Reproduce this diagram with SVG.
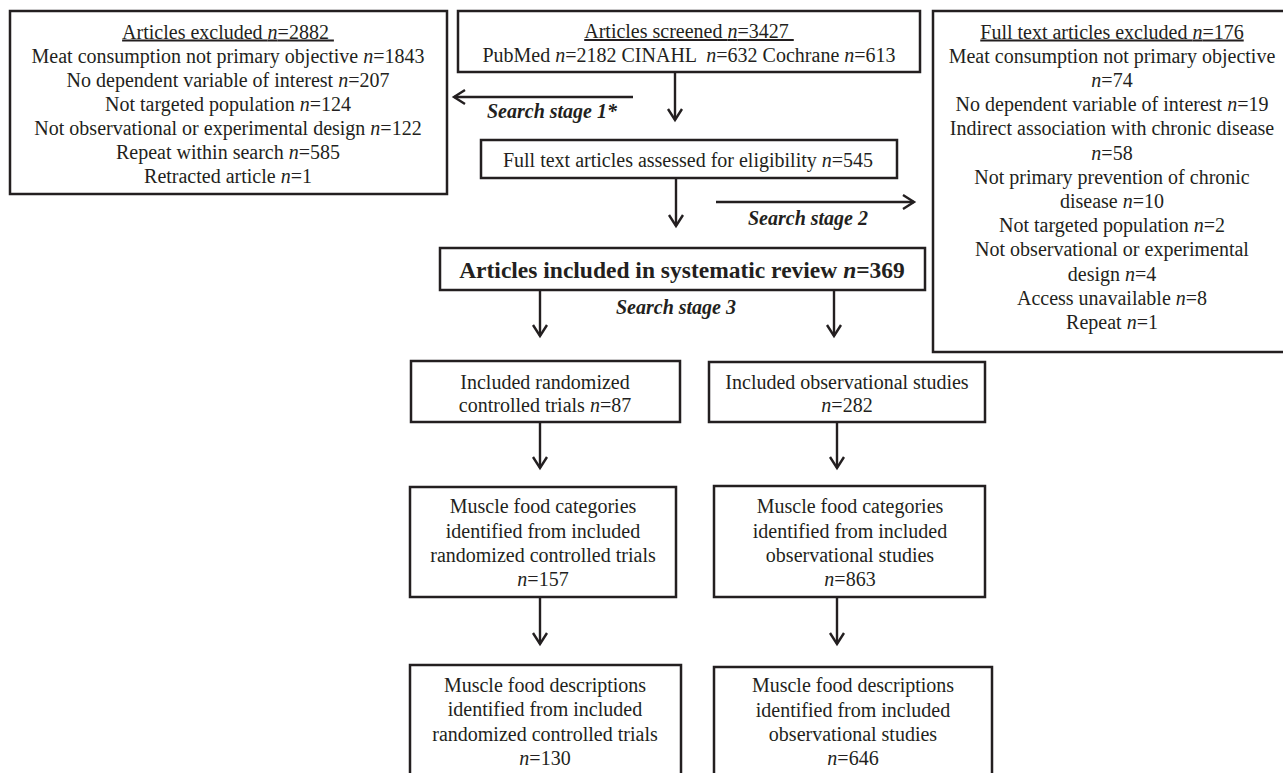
<svg xmlns="http://www.w3.org/2000/svg" width="1283" height="773" viewBox="0 0 1283 773">
<style>
.box{fill:#fff;stroke:#231f20;stroke-width:2.5}
.t{font-family:"Liberation Serif","Times New Roman",serif;font-size:20px;fill:#231f20;text-anchor:middle}
.b{font-weight:bold;font-size:23.5px}
.s{font-weight:bold;font-style:italic;font-size:20px}
.u{text-decoration:underline}
.i{font-style:italic}
.c{stroke:#231f20;stroke-width:2.4;fill:none}
</style>
<defs>
<marker id="ah" markerUnits="userSpaceOnUse" markerWidth="20" markerHeight="20" viewBox="-13 -10 15 20" refX="0" refY="0" orient="auto">
<path d="M -11 -7 L 0 0 L -11 7" fill="none" stroke="#231f20" stroke-width="2.4"/>
</marker>
</defs>
<rect width="1283" height="773" fill="#fff"/>
<g id="connectors">
<line class="c" x1="633" y1="97" x2="454" y2="97" marker-end="url(#ah)"/>
<line class="c" x1="675" y1="72" x2="675" y2="120" marker-end="url(#ah)"/>
<line class="c" x1="676" y1="178" x2="676" y2="226" marker-end="url(#ah)"/>
<line class="c" x1="716" y1="202" x2="914" y2="202" marker-end="url(#ah)"/>
<line class="c" x1="540" y1="290" x2="540" y2="336" marker-end="url(#ah)"/>
<line class="c" x1="834" y1="290" x2="834" y2="336" marker-end="url(#ah)"/>
<line class="c" x1="540" y1="422" x2="540" y2="468" marker-end="url(#ah)"/>
<line class="c" x1="837" y1="422" x2="837" y2="468" marker-end="url(#ah)"/>
<line class="c" x1="540" y1="597" x2="540" y2="644" marker-end="url(#ah)"/>
<line class="c" x1="837" y1="597" x2="837" y2="644" marker-end="url(#ah)"/>
<text class="t s" x="552" y="118">Search stage 1*</text>
<text class="t s" x="808" y="225">Search stage 2</text>
<text class="t s" x="676" y="314">Search stage 3</text>
</g>
<g id="excluded1">
<rect class="box" x="10" y="11" width="437" height="183"/>
<text class="t" x="228" y="38.5" xml:space="preserve"><tspan class="u">Articles excluded <tspan class="i">n</tspan>=2882 </tspan></text>
<text class="t" x="228" y="62.5">Meat consumption not primary objective <tspan class="i">n</tspan>=1843</text>
<text class="t" x="228" y="86.5">No dependent variable of interest <tspan class="i">n</tspan>=207</text>
<text class="t" x="228" y="110.5">Not targeted population <tspan class="i">n</tspan>=124</text>
<text class="t" x="228" y="134.5">Not observational or experimental design <tspan class="i">n</tspan>=122</text>
<text class="t" x="228" y="158.5">Repeat within search <tspan class="i">n</tspan>=585</text>
<text class="t" x="228" y="182.5">Retracted article <tspan class="i">n</tspan>=1</text>
</g>
<g id="screened">
<rect class="box" x="458" y="11" width="462" height="61"/>
<text class="t" x="689" y="38" xml:space="preserve"><tspan class="u">Articles screened <tspan class="i">n</tspan>=3427 </tspan></text>
<text class="t" x="689" y="62" xml:space="preserve">PubMed <tspan class="i">n</tspan>=2182 CINAHL  <tspan class="i">n</tspan>=632 Cochrane <tspan class="i">n</tspan>=613</text>
</g>
<g id="fulltext">
<rect class="box" x="481" y="140" width="416" height="38"/>
<text class="t" x="688" y="166.5">Full text articles assessed for eligibility <tspan class="i">n</tspan>=545</text>
</g>
<g id="excluded2">
<rect class="box" x="933" y="11" width="370" height="341"/>
<text class="t" x="1112" y="38.5"><tspan class="u">Full text articles excluded <tspan class="i">n</tspan>=176</tspan></text>
<text class="t" x="1112" y="62.7">Meat consumption not primary objective</text>
<text class="t" x="1112" y="86.9"><tspan class="i">n</tspan>=74</text>
<text class="t" x="1112" y="111.1">No dependent variable of interest <tspan class="i">n</tspan>=19</text>
<text class="t" x="1112" y="135.3">Indirect association with chronic disease</text>
<text class="t" x="1112" y="159.5"><tspan class="i">n</tspan>=58</text>
<text class="t" x="1112" y="183.7">Not primary prevention of chronic</text>
<text class="t" x="1112" y="207.9">disease <tspan class="i">n</tspan>=10</text>
<text class="t" x="1112" y="232.1">Not targeted population <tspan class="i">n</tspan>=2</text>
<text class="t" x="1112" y="256.3">Not observational or experimental</text>
<text class="t" x="1112" y="280.5">design <tspan class="i">n</tspan>=4</text>
<text class="t" x="1112" y="304.7">Access unavailable <tspan class="i">n</tspan>=8</text>
<text class="t" x="1112" y="328.9">Repeat <tspan class="i">n</tspan>=1</text>
</g>
<g id="included">
<rect class="box" x="440" y="248" width="485" height="42"/>
<text class="t b" x="682" y="277.5">Articles included in systematic review <tspan class="i">n</tspan>=369</text>
</g>
<g id="rct1">
<rect class="box" x="411" y="361" width="269" height="61"/>
<text class="t" x="545" y="388.5">Included randomized</text>
<text class="t" x="545" y="412">controlled trials <tspan class="i">n</tspan>=87</text>
</g>
<g id="obs1">
<rect class="box" x="709" y="362" width="276" height="60"/>
<text class="t" x="847" y="388.5">Included observational studies</text>
<text class="t" x="847" y="412"><tspan class="i">n</tspan>=282</text>
</g>
<g id="rct2">
<rect class="box" x="410" y="487" width="266" height="110"/>
<text class="t" x="543" y="513">Muscle food categories</text>
<text class="t" x="543" y="537.5">identified from included</text>
<text class="t" x="543" y="561.5">randomized controlled trials</text>
<text class="t" x="543" y="586"><tspan class="i">n</tspan>=157</text>
</g>
<g id="obs2">
<rect class="box" x="714" y="486" width="271" height="111"/>
<text class="t" x="850" y="513">Muscle food categories</text>
<text class="t" x="850" y="537.5">identified from included</text>
<text class="t" x="850" y="561.5">observational studies</text>
<text class="t" x="850" y="586"><tspan class="i">n</tspan>=863</text>
</g>
<g id="rct3">
<rect class="box" x="410" y="665" width="271" height="130"/>
<text class="t" x="545" y="692">Muscle food descriptions</text>
<text class="t" x="545" y="716">identified from included</text>
<text class="t" x="545" y="740.5">randomized controlled trials</text>
<text class="t" x="545" y="764.5"><tspan class="i">n</tspan>=130</text>
</g>
<g id="obs3">
<rect class="box" x="714" y="667" width="278" height="130"/>
<text class="t" x="853" y="692">Muscle food descriptions</text>
<text class="t" x="853" y="716.5">identified from included</text>
<text class="t" x="853" y="741">observational studies</text>
<text class="t" x="853" y="765"><tspan class="i">n</tspan>=646</text>
</g>
</svg>
